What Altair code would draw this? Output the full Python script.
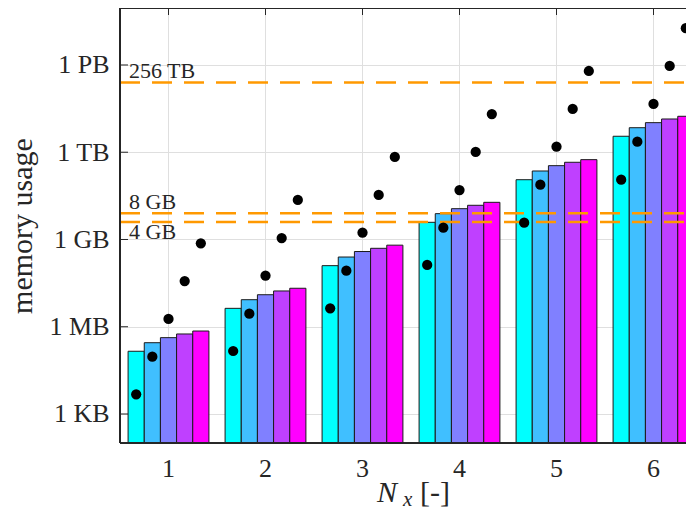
import altair as alt
import pandas as pd

# ---------------- data ----------------
groups = [1, 2, 3, 4, 5, 6]              # N_x
series = [1, 2, 3, 4, 5]                 # bar index inside a group
bar_colors = ["#00FFFF", "#40BFFF", "#8080FF", "#BF40FF", "#FF00FF"]

# memory usage, expressed as log2(bytes)
bar_log2 = [
    [17.19, 18.17, 18.75, 19.17, 19.51],
    [22.11, 23.10, 23.67, 24.10, 24.41],
    [27.00, 27.99, 28.62, 28.99, 29.35],
    [31.97, 32.96, 33.53, 33.92, 34.26],
    [36.85, 37.85, 38.46, 38.85, 39.15],
    [41.83, 42.81, 43.39, 43.81, 44.12],
]
dot_log2 = [
    [12.26, 16.57, 20.89, 25.24, 29.56],
    [17.22, 21.50, 25.85, 30.17, 34.53],
    [22.11, 26.42, 30.78, 35.10, 39.46],
    [27.08, 31.35, 35.67, 40.03, 44.38],
    [31.93, 36.28, 40.64, 44.96, 49.31],
    [36.85, 41.21, 45.53, 49.89, 54.21],
]
tick_log2 = [10, 20, 30, 40, 50]
tick_labels = ["1 KB", "1 MB", "1 GB", "1 TB", "1 PB"]
limit_log2 = [32, 33, 48]
limit_labels = ["4 GB", "8 GB", "256 TB"]
limit_side = ["below", "above", "above"]
y_range_log2 = [6.676, 56.53]
xtitle_parts = ["N", "x", "[-]"]

# ---------------- tables ----------------
rows = []
for gi, n in enumerate(groups):
    for si, k in enumerate(series):
        rows.append({"N": n, "k": k,
                     "bar": 2.0 ** bar_log2[gi][si],
                     "dot": 2.0 ** dot_log2[gi][si]})
df = pd.DataFrame(rows)
ticks_df = pd.DataFrame({"t": [2.0 ** v for v in tick_log2]})
limits_df = pd.DataFrame({"v": [2.0 ** v for v in limit_log2],
                          "label": limit_labels, "side": limit_side})
groups_df = pd.DataFrame({"N": groups})

FONT = "Liberation Serif"
DARK = "#262626"
GRID = "#dfdfdf"
ORANGE = "#FF9900"
W, H = 566, 435          # visible plot area (the right end is cut like the reference)
XRANGE = 582             # full width of the six category bands
PAD_L, PAD_B = 112, 69
YMIN = 2.0 ** y_range_log2[0]

label_map = "{" + ",".join(f"'{e}':'{l}'" for e, l in zip(tick_log2, tick_labels)) + "}"

yscale = alt.Scale(type="log", base=2, nice=False,
                   domain=[YMIN, 2.0 ** y_range_log2[1]])
xscale = alt.Scale(domain=groups, paddingInner=0, paddingOuter=0, range=[0, XRANGE])
oscale = alt.Scale(domain=series, paddingInner=0, paddingOuter=0.5)

yaxis = alt.Axis(values=[2.0 ** v for v in tick_log2],
                 labelExpr=f"{label_map}[round(log(datum.value)/log(2))]",
                 title="memory usage", titleFont=FONT, titleFontSize=30,
                 titleFontWeight="normal", titleColor=DARK, titlePadding=12,
                 labelFont=FONT, labelFontSize=26, labelColor=DARK,
                 labelPadding=11, ticks=False, domain=False,
                 grid=True, gridColor=GRID, gridWidth=1)


def xcenter():
    return alt.X("N:O", scale=xscale, bandPosition=0.5, axis=None)


base = alt.Chart(df)

xgrid = alt.Chart(groups_df).mark_rule(color=GRID, strokeWidth=1).encode(
    x=xcenter(), y=alt.value(0), y2=alt.value(H))

bars = base.mark_bar(stroke="#1a1a1a", strokeWidth=1).encode(
    x=alt.X("N:O", scale=xscale, axis=None),
    xOffset=alt.XOffset("k:O", scale=oscale),
    y=alt.Y("bar:Q", scale=yscale, axis=yaxis, stack=None),
    y2=alt.datum(YMIN),
    color=alt.Color("k:O", scale=alt.Scale(domain=series, range=bar_colors), legend=None),
)

dots = base.mark_circle(size=105, color="black", opacity=1).encode(
    x=alt.X("N:O", scale=xscale, axis=None),
    xOffset=alt.XOffset("k:O", scale=oscale),
    y=alt.Y("dot:Q", scale=yscale),
)

lines = alt.Chart(limits_df).mark_rule(color=ORANGE, strokeWidth=2.5,
                                       strokeDash=[20, 12]).encode(
    y=alt.Y("v:Q", scale=yscale), x=alt.value(0), x2=alt.value(XRANGE),
)

lab_above = alt.Chart(limits_df).transform_filter(alt.datum.side == "above").mark_text(
    align="left", baseline="alphabetic", dy=-4, font=FONT, fontSize=22, color=DARK
).encode(y=alt.Y("v:Q", scale=yscale), x=alt.value(9), text="label:N")

lab_below = alt.Chart(limits_df).transform_filter(alt.datum.side == "below").mark_text(
    align="left", baseline="alphabetic", dy=17, font=FONT, fontSize=22, color=DARK
).encode(y=alt.Y("v:Q", scale=yscale), x=alt.value(9), text="label:N")

yticks = alt.Chart(ticks_df).mark_rule(color=DARK, strokeWidth=1).encode(
    y=alt.Y("t:Q", scale=yscale), x=alt.value(0), x2=alt.value(8))

xticks = alt.Chart(groups_df).mark_rule(color=DARK, strokeWidth=1).encode(
    x=xcenter(), y=alt.value(0), y2=alt.value(7))

xlabels = alt.Chart(groups_df).mark_text(
    align="center", baseline="alphabetic", font=FONT, fontSize=26, color=DARK
).encode(x=xcenter(), y=alt.value(H + 34), text="N:N")

# frame (top, bottom, left); the right side lies beyond the cut
frame_top = alt.Chart(groups_df).mark_rule(color=DARK, strokeWidth=1.2).encode(
    x=alt.value(0), x2=alt.value(XRANGE), y=alt.value(0.5))
frame_bottom = alt.Chart(groups_df).mark_rule(color=DARK, strokeWidth=1.2).encode(
    x=alt.value(0), x2=alt.value(XRANGE), y=alt.value(H))
frame_left = alt.Chart(groups_df).mark_rule(color=DARK, strokeWidth=1.2).encode(
    x=alt.value(0), y=alt.value(0), y2=alt.value(H))

t_n = alt.Chart(pd.DataFrame({"t": [xtitle_parts[0]]})).mark_text(
    align="left", baseline="alphabetic", font=FONT, fontSize=30, fontStyle="italic", color=DARK
).encode(x=alt.value(257), y=alt.value(494), text="t:N")
t_x = alt.Chart(pd.DataFrame({"t": [xtitle_parts[1]]})).mark_text(
    align="left", baseline="alphabetic", font=FONT, fontSize=21, fontStyle="italic", color=DARK
).encode(x=alt.value(283), y=alt.value(498), text="t:N")
t_u = alt.Chart(pd.DataFrame({"t": [xtitle_parts[2]]})).mark_text(
    align="left", baseline="alphabetic", font=FONT, fontSize=30, color=DARK
).encode(x=alt.value(300), y=alt.value(494), text="t:N")

chart = alt.layer(
    xgrid, yticks, xticks, bars, lines, dots, lab_above, lab_below,
    frame_top, frame_bottom, frame_left, xlabels, t_n, t_x, t_u
).properties(
    width=W, height=H,
    autosize=alt.AutoSizeParams(type="none"),
    padding={"left": PAD_L, "top": 0, "right": 0, "bottom": PAD_B},
).configure_view(
    stroke=None
).configure(font=FONT)

chart.save("out.html", embed_options={"renderer": "svg", "actions": False})
